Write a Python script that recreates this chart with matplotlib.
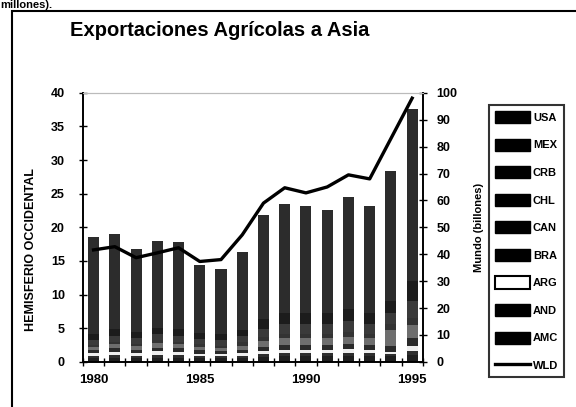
import numpy as np
import matplotlib
matplotlib.use("Agg")
import matplotlib.pyplot as plt
from matplotlib.patches import Patch, Rectangle
from matplotlib.lines import Line2D

plt.rcParams['font.family'] = ['Liberation Sans', 'DejaVu Sans']
plt.rcParams['font.weight'] = 'bold'

# Data (billions)
years = list(range(1980, 1996))
usa = [14.3, 14.1, 12.4, 12.9, 12.9, 10.1, 9.7, 11.6, 15.4, 16.3, 16.0, 15.3, 16.6, 15.8, 19.3, 25.6]
mex = [0.9, 1.0, 0.9, 1.0, 1.0, 0.9, 0.9, 1.0, 1.5, 1.6, 1.6, 1.7, 1.8, 1.7, 1.9, 3.0]
crb = [0.8, 0.9, 0.8, 0.9, 0.9, 0.8, 0.8, 0.9, 1.2, 1.4, 1.4, 1.4, 1.6, 1.4, 1.6, 2.5]
chl = [0.3, 0.4, 0.4, 0.4, 0.4, 0.4, 0.4, 0.5, 0.6, 0.7, 0.7, 0.7, 0.8, 0.7, 0.8, 1.0]
can = [0.4, 0.6, 0.5, 0.7, 0.6, 0.5, 0.4, 0.6, 0.9, 1.0, 1.0, 1.0, 1.1, 1.0, 2.5, 2.0]
bra = [0.5, 0.5, 0.5, 0.5, 0.5, 0.5, 0.4, 0.5, 0.6, 0.7, 0.7, 0.7, 0.7, 0.7, 0.8, 1.2]
arg = [0.4, 0.5, 0.4, 0.6, 0.5, 0.4, 0.4, 0.4, 0.5, 0.5, 0.5, 0.5, 0.6, 0.5, 0.3, 0.7]
andes = [0.4, 0.4, 0.3, 0.4, 0.4, 0.3, 0.3, 0.3, 0.4, 0.5, 0.5, 0.5, 0.5, 0.5, 0.3, 0.6]
amc = [0.5, 0.6, 0.6, 0.6, 0.6, 0.5, 0.5, 0.6, 0.7, 0.8, 0.8, 0.8, 0.8, 0.8, 0.9, 1.0]
wld = [41.6, 42.8, 38.7, 40.5, 42.4, 37.3, 38.0, 47.2, 59.0, 64.7, 62.8, 65.0, 69.5, 68.0, 83.0, 98.0]

names = ['USA', 'MEX', 'CRB', 'CHL', 'CAN', 'BRA', 'ARG', 'AND', 'AMC']
# bottom of stack first
stack = [(amc, '#1e1e1e'), (andes, '#2e2e2e'), (arg, '#eeeeee'), (bra, '#2a2a2a'),
         (can, '#6e6e6e'), (chl, '#333333'), (crb, '#3a3a3a'), (mex, '#1c1c1c'),
         (usa, '#2c2c2c')]

fig = plt.figure(figsize=(5.76, 4.07), dpi=100)
ax = fig.add_axes([0.144, 0.111, 0.590, 0.661])
ax2 = ax.twinx()

bottom = np.zeros(len(years))
for vals, col in stack:
    ax.bar(years, vals, width=0.52, bottom=bottom, color=col, edgecolor='none')
    bottom += np.array(vals)

ax2.plot(years, wld, color='black', lw=2.4, solid_joinstyle='round')

ax.set_xlim(1979.55, 1995.5)
ax.set_ylim(0, 40)
ax2.set_ylim(0, 100)
ax.set_yticks(range(0, 41, 5))
ax2.set_yticks(range(0, 101, 10))
ax.set_xticks([1980, 1985, 1990, 1995])
ax.set_xticks(np.arange(1979.5, 1996, 1), minor=True)
ax.tick_params(axis='x', which='major', length=0, labelsize=9.5, pad=9)
ax.tick_params(axis='x', which='minor', direction='inout', length=6, width=1)
ax.tick_params(axis='y', direction='inout', length=6, width=1, labelsize=9, pad=10)
ax2.tick_params(axis='y', direction='inout', length=6, width=1, labelsize=9, pad=7)

for a in (ax, ax2):
    a.spines['top'].set_color('#bbbbbb')
    for s in ('left', 'right', 'bottom'):
        a.spines[s].set_linewidth(1.2)

ax.set_ylabel('HEMISFERIO OCCIDENTAL', fontsize=9, fontweight='bold')
ax.yaxis.set_label_coords(-0.135, 0.416)
ax2.set_ylabel('Mundo (billones)', fontsize=8, fontweight='bold', labelpad=12)

fig.text(0.122, 0.924, 'Exportaciones Agrícolas a Asia', fontsize=14.5, fontweight='bold', va='center')
fig.text(0.0, 0.999, 'millones).', fontsize=8, fontweight='bold', va='top', ha='left')

# outer frame of the scanned figure
fig.patches.append(Rectangle((0.021, -0.05), 1.1, 0.023 + 0.05 + 0.95, transform=fig.transFigure,
                             fill=False, edgecolor='black', lw=1.5, clip_on=False))

handles = [Patch(facecolor='black', edgecolor='black') for _ in names]
handles[names.index('ARG')] = Patch(facecolor='white', edgecolor='black', lw=1.5)
handles.append(Line2D([0], [0], color='black', lw=2.4))
leg = fig.legend(handles, names + ['WLD'], loc='upper left', bbox_to_anchor=(0.849, 0.742),
                 frameon=True, fancybox=False, edgecolor='black', fontsize=8,
                 handlelength=3.1, handleheight=1.3, labelspacing=1.39, handletextpad=0.3,
                 borderpad=0.55, borderaxespad=0)
leg.get_frame().set_linewidth(1.5)
for t in leg.get_texts():
    t.set_fontweight('bold')

fig.savefig('out.png', dpi=100)
